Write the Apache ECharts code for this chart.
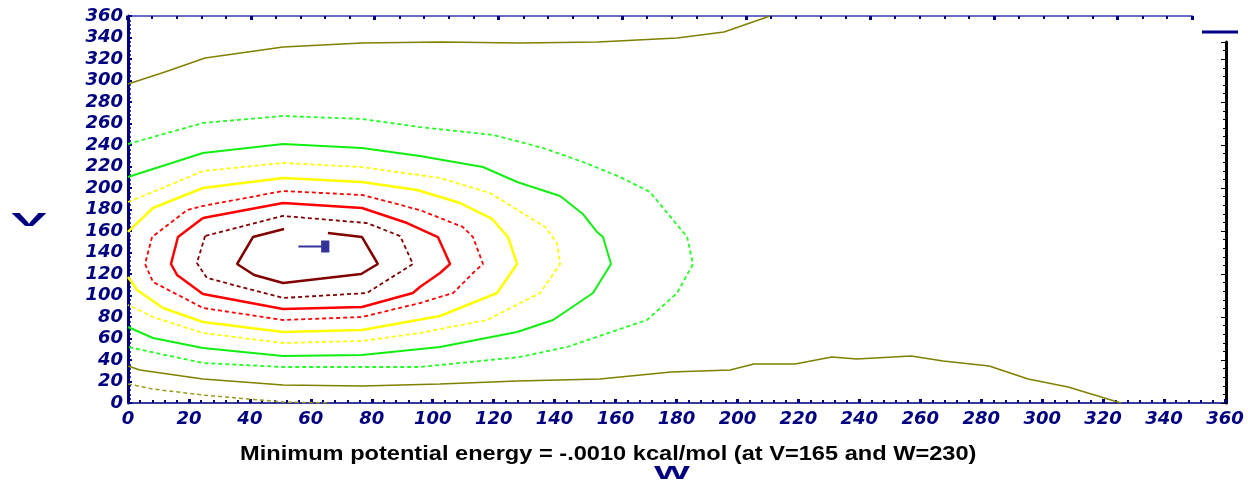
<!DOCTYPE html>
<html>
<head>
<meta charset="utf-8">
<script src="https://cdn.jsdelivr.net/npm/echarts@6/dist/echarts.min.js"></script>
<style>
  html, body { margin: 0; padding: 0; background: #fff; }
  #chart { width: 1248px; height: 480px; }
</style>
</head>
<body>
<div id="chart"></div>
<script>
// Potential-energy surface: iso-energy contours over the (W, V) plane.
const xTicks = [0, 20, 40, 60, 80, 100, 120, 140, 160, 180, 200, 220, 240, 260, 280, 300, 320, 340, 360];
const yTicks = [0, 20, 40, 60, 80, 100, 120, 140, 160, 180, 200, 220, 240, 260, 280, 300, 320, 340, 360];

// Contour traces, innermost level first, as [W, V] points.
const contourDarkRed = [[51.2,161.9],[41.0,154.4],[35.8,129.3],[41.4,119.1],[50.9,111.6],[76.5,120.0],[82.0,129.3],[76.8,154.4],[65.6,158.1]];
const contourDarkRedDashed = [[25.3,155.3],[22.6,130.2],[25.9,116.3],[50.9,97.7],[78.4,102.3],[93.5,129.3],[89.3,155.3],[78.4,167.4],[50.9,174.0],[25.3,155.3]];
const contourRed = [[24.6,172.1],[50.9,186.0],[76.8,181.4],[91.6,167.4],[101.7,154.4],[105.7,129.3],[102.4,120.9],[95.8,107.9],[93.5,102.3],[76.8,89.3],[50.9,87.4],[24.6,101.4],[16.1,119.1],[14.1,129.3],[16.4,154.4],[24.6,172.1]];
const contourRedDashed = [[7.9,154.4],[5.6,129.3],[8.2,112.6],[24.6,88.4],[50.9,77.2],[76.8,80.0],[95.8,93.0],[106.7,102.3],[113.2,120.9],[116.5,129.3],[113.2,154.4],[109.9,163.7],[95.8,179.5],[76.8,193.5],[50.9,197.2],[24.6,183.3],[19.4,179.5],[7.9,154.4]];
const contourYellow = [[0,159.1],[8.2,181.4],[24.6,200.0],[50.9,209.3],[76.8,205.6],[94.9,198.1],[109.0,186.0],[119.5,171.2],[124.7,154.4],[127.7,129.3],[121.1,102.3],[102.4,80.9],[76.8,67.9],[50.9,66.0],[24.6,75.3],[11.5,88.4],[3.0,105.1],[0,117.2]];
const contourYellowDashed = [[0,187.0],[8.2,196.3],[24.6,215.8],[50.9,223.3],[76.8,219.5],[102.4,209.3],[118.8,195.3],[136.9,163.7],[140.8,148.8],[141.8,129.3],[137.8,112.6],[135.2,102.3],[117.8,77.2],[95.8,65.1],[76.8,57.7],[50.9,55.8],[24.6,65.1],[8.2,80.0],[0,91.2]];
const contourGreen = [[0,210.2],[24.6,232.6],[50.9,240.9],[76.8,237.2],[95.8,229.8],[116.5,219.5],[127.7,205.6],[141.8,192.6],[149.3,175.8],[153.9,159.1],[155.9,154.4],[158.5,129.3],[152.6,102.3],[139.5,77.2],[127.7,66.0],[102.4,52.1],[76.8,44.7],[50.9,43.7],[24.6,51.2],[8.2,60.5],[0,70.7]];
const contourGreenDashed = [[0,240.9],[24.6,260.5],[50.9,267.0],[76.8,264.2],[95.8,256.7],[119.8,249.3],[136.2,237.2],[149.3,224.2],[161.5,210.2],[171.3,196.3],[175.6,181.4],[183.5,154.4],[185.4,129.3],[180.2,102.3],[170.3,77.2],[144.1,52.1],[128.6,42.8],[95.8,33.5],[76.8,33.5],[50.9,33.5],[24.6,37.2],[0,52.1]];
const contourOliveUpper = [[0,296.7],[12.1,307.9],[25.3,320.9],[50.9,331.2],[76.8,334.9],[102.7,335.8],[128.6,334.9],[154.2,335.8],[180.2,339.5],[195.6,345.1],[210.7,360]];
const contourOliveLower = [[0,34.4],[3.9,30.7],[24.6,22.3],[50.9,16.7],[76.8,15.8],[102.4,17.7],[127.7,20.5],[154.9,22.3],[178.2,28.8],[197.6,30.7],[205.4,36.3],[218.9,36.3],[231.0,42.8],[239.2,40.9],[257.0,43.7],[267.5,39.1],[282.6,34.4],[295.4,22.3],[308.5,14.9],[325.9,0]];
const contourOliveDashed = [[0,17.7],[8.2,13.0],[24.6,7.4],[50.9,0.9],[66.3,0]];

// Location of the marked point.
const markedPoint = [[61.0, 145.6]];

const subtitle = 'Minimum potential energy = -.0010 kcal/mol (at V=165 and W=230)';
const xName = 'W';
const yName = 'V';

const NAVY = '#000080';

function contour(data, color, width, dashed) {
  return {
    type: 'line', data: data, xAxisIndex: 0, yAxisIndex: 0,
    showSymbol: false, symbol: 'none', silent: true,
    lineStyle: { color: color, width: width, type: dashed ? [4, 3] : 'solid' },
    z: 3
  };
}

const chart = echarts.init(document.getElementById('chart'), null, { renderer: 'canvas' });

const tickLabel = {
  color: NAVY, fontFamily: 'DejaVu Sans', fontStyle: 'oblique', fontWeight: 'bold', fontSize: 18
};

chart.setOption({
  animation: false,
  backgroundColor: '#ffffff',
  grid: [
    { left: 128, right: 23, top: 16, bottom: 77 },
    { left: 127, right: 56, top: 16, height: 1 },
    { right: 22, top: 42, bottom: 77, width: 1 }
  ],
  xAxis: [
    {
      type: 'value', gridIndex: 0, min: 0, max: 360, interval: 20,
      axisLine: { onZero: false, lineStyle: { color: '#3a3aa0', width: 2 } },
      axisTick: { inside: true, length: 4, lineStyle: { color: NAVY, width: 3 } },
      minorTick: { show: true, splitNumber: 5, length: 3, lineStyle: { color: NAVY, width: 2 } },
      splitLine: { show: false },
      axisLabel: Object.assign({ margin: 7, formatter: v => xTicks.includes(v) ? String(v) : '' }, tickLabel)
    },
    {
      type: 'value', gridIndex: 1, position: 'top', min: 0, max: 43, interval: 5,
      axisLine: { onZero: false, lineStyle: { color: '#6a6ac0', width: 2 } },
      axisTick: { inside: true, length: 4, lineStyle: { color: NAVY, width: 3 } },
      minorTick: { show: true, splitNumber: 5, length: 3, lineStyle: { color: NAVY, width: 2 } },
      splitLine: { show: false }, axisLabel: { show: false }
    },
    { type: 'value', gridIndex: 2, show: false }
  ],
  yAxis: [
    {
      type: 'value', gridIndex: 0, min: 0, max: 360, interval: 20,
      axisLine: { onZero: false, lineStyle: { color: NAVY, width: 3 } },
      axisTick: { inside: true, length: 4, lineStyle: { color: NAVY, width: 2 } },
      minorTick: { show: true, splitNumber: 5, length: 3, lineStyle: { color: NAVY, width: 1.5 } },
      splitLine: { show: false },
      axisLabel: Object.assign({ margin: 5, formatter: v => yTicks.includes(v) ? String(v) : '' }, tickLabel)
    },
    { type: 'value', gridIndex: 1, show: false },
    {
      type: 'value', gridIndex: 2, position: 'right', min: 0, max: 42, interval: 5,
      axisLine: { onZero: false, lineStyle: { color: '#000000', width: 3 } },
      axisTick: { inside: true, length: 5, lineStyle: { color: '#000000', width: 1 } },
      minorTick: { show: true, splitNumber: 5, length: 3, lineStyle: { color: '#000000', width: 1 } },
      splitLine: { show: false }, axisLabel: { show: false }
    }
  ],
  series: [
    contour(contourOliveDashed, '#9a9a20', 1.5, true),
    contour(contourOliveLower, '#808000', 1.5, false),
    contour(contourOliveUpper, '#808000', 1.5, false),
    contour(contourGreenDashed, '#22ff22', 1.8, true),
    contour(contourGreen, '#11ee11', 2, false),
    contour(contourYellowDashed, '#ffff00', 1.8, true),
    contour(contourYellow, '#ffff00', 2.5, false),
    contour(contourRedDashed, '#ff0000', 1.8, true),
    contour(contourRed, '#ff0000', 2.5, false),
    contour(contourDarkRedDashed, '#800000', 1.8, true),
    contour(contourDarkRed, '#800000', 2.5, false),
    {
      type: 'scatter', data: markedPoint, xAxisIndex: 0, yAxisIndex: 0, silent: true,
      symbol: 'path://M0 5 H22 V0 H30 V12 H22 V7 H0 Z', symbolSize: [31, 12], symbolKeepAspect: false,
      itemStyle: { color: NAVY }, z: 5
    }
  ],
  graphic: [
    {
      type: 'text', x: 240, y: 444, silent: true, scaleX: 1.18, scaleY: 1.0,
      style: { text: subtitle, fill: '#000000', font: 'bold 20px "Liberation Sans"' }
    },
    {
      type: 'text', x: 672, y: 464, silent: true, scaleX: 2.0, scaleY: 1.0,
      style: { text: xName, fill: NAVY, font: 'bold 19px "Liberation Sans"', align: 'center' }
    },
    {
      type: 'text', x: 29, y: 211, silent: true, scaleX: 2.8, scaleY: 1.0,
      style: { text: yName, fill: NAVY, font: 'bold 19px "Liberation Sans"', align: 'center' }
    },
    {
      type: 'line', silent: true,
      shape: { x1: 1202, y1: 32, x2: 1238, y2: 32 },
      style: { stroke: NAVY, lineWidth: 3 }
    }
  ]
});
</script>
</body>
</html>
